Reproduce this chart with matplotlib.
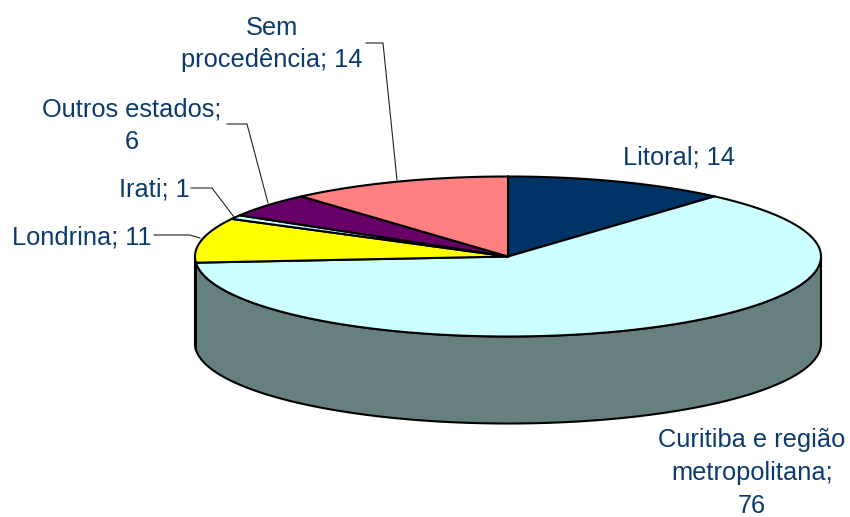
import numpy as np
import matplotlib
matplotlib.use("Agg")
import matplotlib.pyplot as plt
from matplotlib.patches import Polygon

categories = ["Litoral", "Curitiba e região metropolitana", "Londrina", "Irati", "Outros estados", "Sem procedência"]
values = [14, 76, 11, 1, 6, 14]
top_colors = ["#003366", "#CCFFFF", "#FFFF00", "#CCFFFF", "#660066", "#FF8080"]
side_colors = ["#001F3D", "#667F7F", "#7F7F00", "#667F7F", "#330033", "#7F4040"]
labels = ["Litoral; 14", "Curitiba e região\nmetropolitana;\n76", "Londrina; 11", "Irati; 1", "Outros estados;\n6", "Sem\nprocedência; 14"]
label_pos = [(679, 157), (752, 473), (82, 237), (154, 189), (132, 126), (272, 44)]
leaders = [None, None, [(154, 235), (190, 235), (200, 238)], [(191, 188), (212, 188), (234, 217)],
           [(227, 124), (247, 124), (268, 203)], [(366, 43), (383, 43), (397, 180)]]

cx, cy, rx, ry, depth = 508, 256.5, 313, 80, 87
ink = "#0B3B6E"

fig = plt.figure(figsize=(8.5, 5.17), dpi=100)
ax = fig.add_axes([0, 0, 1, 1])
ax.set_xlim(0, 850)
ax.set_ylim(517, 0)
ax.axis("off")

def pt(t):
    t = np.asarray(t)
    return cx + rx * np.sin(t), cy - ry * np.cos(t)

edges = np.concatenate([[0], np.cumsum(values)]) / sum(values) * 2 * np.pi

# sides (only the front half of the rim is visible)
for i in range(len(values)):
    a, b = max(edges[i], np.pi / 2), min(edges[i + 1], 3 * np.pi / 2)
    if b <= a:
        continue
    t = np.linspace(a, b, 200)
    x, y = pt(t)
    verts = np.r_[np.c_[x, y], np.c_[x[::-1], y[::-1] + depth]]
    ax.add_patch(Polygon(verts, closed=True, fc=side_colors[i], ec="black", lw=1.5, zorder=2))

# top faces
for i in range(len(values)):
    t = np.linspace(edges[i], edges[i + 1], 200)
    x, y = pt(t)
    verts = np.r_[[[cx, cy]], np.c_[x, y]]
    ax.add_patch(Polygon(verts, closed=True, fc=top_colors[i], ec="black", lw=1.5, zorder=3))

for (lx, ly), s in zip(label_pos, labels):
    ax.text(lx, ly, s, ha="center", va="center", fontsize=18.3, color=ink,
            family="Liberation Sans", linespacing=1.45, zorder=5)

for seg in leaders:
    if seg:
        xs, ys = zip(*seg)
        ax.plot(xs, ys, color="#222222", lw=0.8, zorder=4)

fig.savefig("out.png", dpi=100)
